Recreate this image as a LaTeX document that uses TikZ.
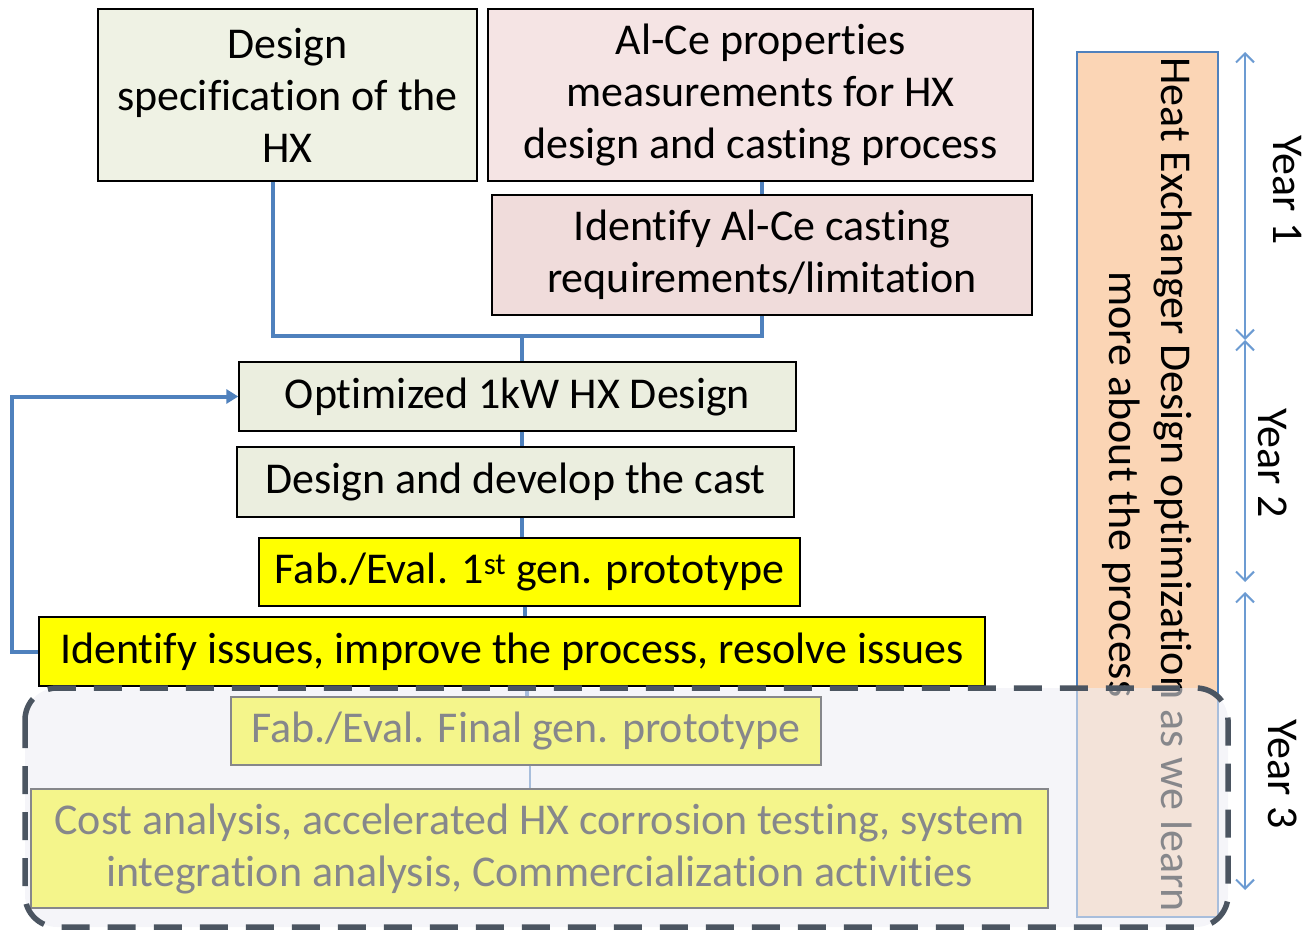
\documentclass[tikz,border=0pt]{standalone}
\usepackage{fontspec}
\setmainfont{Carlito}[Ligatures={NoCommon}]
\usetikzlibrary{arrows.meta,calc}

\definecolor{specgreen}{RGB}{239,242,228}
\definecolor{stepgreen}{RGB}{235,238,223}
\definecolor{propspink}{RGB}{245,228,228}
\definecolor{reqpink}{RGB}{240,220,219}
\definecolor{hiyellow}{RGB}{255,255,0}
\definecolor{linkblue}{RGB}{79,129,189}
\definecolor{yearblue}{RGB}{108,155,210}
\definecolor{orangefill}{RGB}{251,213,181}
\definecolor{veil}{RGB}{237,238,245}
\definecolor{dashgray}{RGB}{75,85,97}

\tikzset{
  x=1pt, y=-1pt,
  every node/.style={font=\fontsize{44}{52}\selectfont, inner sep=0pt, align=center},
  stepbox/.style={draw=black, line width=1.4pt, minimum width=#1},
  link/.style={draw=linkblue, line width=4pt},
  yearspan/.style={draw=yearblue, line width=2pt,
    {Straight Barb[length=9pt,width=18pt,line width=2pt]}-{Straight Barb[length=9pt,width=18pt,line width=2pt]}},
  yearlabel/.style={rotate=-90},
}

\begin{document}
\begin{tikzpicture}
\useasboundingbox (0,0) rectangle (1305,932);

% top row
\node[stepbox=379pt, minimum height=172pt, fill=specgreen] (spec) at (287.5,95)
  {Design\\specification of the\\HX};
\node[stepbox=545pt, minimum height=172pt, fill=propspink] (props) at (760.5,95)
  {Al-Ce properties\\measurements for HX\\design and casting process};
\node[stepbox=540pt, minimum height=120pt, fill=reqpink] (req) at (762,255)
  {Identify Al-Ce casting\\requirements/limitation};

% main chain
\node[stepbox=557pt, minimum height=69pt, fill=stepgreen] (opt) at (517.5,396.5)
  {Optimized 1kW HX Design};
\node[stepbox=557pt, minimum height=70pt, fill=stepgreen] (cast) at (515.5,482)
  {Design and develop the cast};
\node[stepbox=541pt, minimum height=68pt, fill=hiyellow] (fab1) at (529.5,572)
  {Fab./Eval. 1\textsuperscript{st} gen. prototype};
\node[stepbox=946pt, minimum height=69pt, fill=hiyellow] (issues) at (512,651.5)
  {Identify issues, improve the process, resolve issues};
\node[stepbox=590pt, minimum height=68pt, fill=hiyellow] (fabF) at (526,731)
  {Fab./Eval. Final gen. prototype};
\node[stepbox=1017pt, minimum height=119pt, fill=hiyellow] (cost) at (539.5,848.5)
  {Cost analysis, accelerated HX corrosion testing, system\\integration analysis, Commercialization activities};

% connectors
\coordinate (join) at (522,336);
\draw[link] (req.north) -- (req.north |- props.south);
\draw[link] ([xshift=-14.5pt]spec.south) |- (join) -| (req.south);
\draw[link] (join) -- (join |- opt.north);
\draw[link] (join |- opt.south) -- (join |- cast.north);
\draw[link] (join |- cast.south) -- (join |- fab1.north);
\draw[link] ([xshift=3pt]join |- fab1.south) -- ([xshift=3pt]join |- issues.north);
\draw[link] ([xshift=5pt]join |- issues.south) -- ([xshift=5pt]join |- fabF.north);
\draw[draw=linkblue, line width=2.5pt] ([xshift=8pt]join |- fabF.south) -- ([xshift=8pt]join |- cost.north);
\draw[link, -{Triangle[length=12pt,width=14pt]}] (issues.west) -- ++(-26,0) |- (opt.west);

% side bar
\node[draw=linkblue, line width=1.4pt, fill=orangefill, minimum width=141pt, minimum height=865pt] (side) at (1147.5,484.5) {};
\node[rotate=-90] (sidetext) at (side.center)
  {Heat Exchanger Design optimization as we learn\\more about the process};

% year scale
\coordinate (y0) at (1245,52);
\coordinate (y1) at (1245,340);
\coordinate (y2) at (1245,582);
\coordinate (y2b) at (1245,592);
\coordinate (y3) at (1245,890);
\draw[yearspan] (y0) -- (y1);
\draw[yearspan] (y1) -- (y2);
\draw[yearspan] (y2b) -- (y3);
\node[yearlabel] (yr1) at (1287,190) {Year 1};
\node[yearlabel] (yr2) at (1273,463) {Year 2};
\node[yearlabel] (yr3) at (1283,774) {Year 3};

% year 3 veil over the later steps
\draw[draw=dashgray, line width=5.5pt, dash pattern=on 28pt off 18pt,
      fill=veil, fill opacity=0.57, draw opacity=1, rounded corners=32pt]
  (25,688) rectangle (1228,927);
\end{tikzpicture}
\end{document}
